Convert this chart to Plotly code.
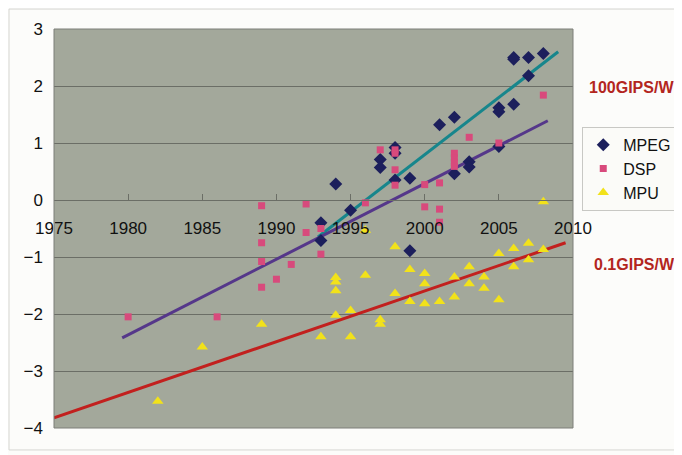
import plotly.graph_objects as go

# ---- data ----
mpeg_year = [1993, 1993, 1994, 1995, 1997, 1997, 1998, 1998, 1998, 1999, 1999,
             2001, 2002, 2002, 2003, 2003, 2005, 2005, 2005, 2006, 2006, 2006,
             2007, 2007, 2008]
mpeg_val = [-0.40, -0.71, 0.28, -0.18, 0.71, 0.57, 0.92, 0.82, 0.35, 0.38, -0.89,
            1.32, 1.45, 0.46, 0.67, 0.58, 1.62, 1.55, 0.94, 1.68, 2.50, 2.47,
            2.50, 2.18, 2.57]

dsp_year = [1980, 1986, 1989, 1989, 1989, 1989, 1990, 1991, 1992, 1992, 1993, 1993,
            1996, 1997, 1998, 1998, 1998, 1998, 2000, 2000, 2001, 2001, 2001,
            2002, 2002, 2002, 2002, 2003, 2005, 2008]
dsp_val = [-2.05, -2.05, -0.10, -0.75, -1.08, -1.53, -1.39, -1.13, -0.07, -0.57, -0.50, -0.95,
           -0.05, 0.88, 0.88, 0.82, 0.53, 0.26, 0.27, -0.12, 0.30, -0.16, -0.39,
           0.82, 0.74, 0.66, 0.59, 1.10, 1.00, 1.84]

mpu_year = [1982, 1985, 1989, 1993, 1994, 1994, 1994, 1994, 1995, 1995, 1996, 1996,
            1997, 1997, 1998, 1998, 1999, 1999, 2000, 2000, 2000, 2001, 2002, 2002,
            2003, 2003, 2004, 2004, 2005, 2005, 2006, 2006, 2007, 2007, 2008, 2008]
mpu_val = [-3.53, -2.58, -2.18, -2.40, -1.36, -1.44, -1.59, -2.02, -1.94, -2.40, -1.32, -0.53,
           -2.10, -2.18, -0.82, -1.64, -1.22, -1.78, -1.29, -1.47, -1.82, -1.78, -1.35, -1.70,
           -1.17, -1.47, -1.35, -1.55, -0.94, -1.75, -0.85, -1.17, -0.76, -1.05, -0.87, -0.03]

# trend lines (end points)
mpeg_trend_year = [1992.8, 2009.0]
mpeg_trend_val = [-0.65, 2.60]
dsp_trend_year = [1979.6, 2008.3]
dsp_trend_val = [-2.42, 1.39]
mpu_trend_year = [1975.0, 2009.5]
mpu_trend_val = [-3.82, -0.75]

x_ticks = [1975, 1980, 1985, 1990, 1995, 2000, 2005, 2010]
y_ticks = [-4, -3, -2, -1, 0, 1, 2, 3]
right_labels = ["100GIPS/W", "0.1GIPS/W"]

FONT = "Liberation Sans, Arial, sans-serif"

fig = go.Figure()

fig.add_trace(go.Scatter(x=mpeg_trend_year, y=mpeg_trend_val, mode="lines",
                         line=dict(color="#17868c", width=3), showlegend=False, hoverinfo="skip"))
fig.add_trace(go.Scatter(x=dsp_trend_year, y=dsp_trend_val, mode="lines",
                         line=dict(color="#55378a", width=3), showlegend=False, hoverinfo="skip"))
fig.add_trace(go.Scatter(x=mpu_trend_year, y=mpu_trend_val, mode="lines",
                         line=dict(color="#c2201e", width=3), showlegend=False, hoverinfo="skip"))

fig.add_trace(go.Scatter(x=mpeg_year, y=mpeg_val, mode="markers", name="MPEG",
                         marker=dict(symbol="diamond", size=10, color="#1c1f5c")))
fig.add_trace(go.Scatter(x=dsp_year, y=dsp_val, mode="markers", name="DSP",
                         marker=dict(symbol="square", size=7, color="#d84a7c")))
fig.add_trace(go.Scatter(x=mpu_year, y=mpu_val, mode="markers", name="MPU",
                         marker=dict(symbol="triangle-up", size=10, color="#f2e21a")))

# plot-area border
fig.add_shape(type="rect", xref="paper", yref="paper", x0=0, x1=1, y0=0, y1=1,
              line=dict(color="#7c7f78", width=1), layer="above")
# outer frame
fig.add_shape(type="rect", xref="paper", yref="paper", x0=-0.0867, x1=1.2, y0=-0.055, y1=1.05,
              line=dict(color="#d6d6d2", width=1), layer="below")

fig.add_annotation(x=1.112, y=0.853, xref="paper", yref="paper", text=right_labels[0],
                   xanchor="center", yanchor="middle",
                   showarrow=False, font=dict(family=FONT, size=16, color="#b3261e", weight="bold"))
fig.add_annotation(x=1.119, y=0.41, xref="paper", yref="paper", text=right_labels[1],
                   xanchor="center", yanchor="middle",
                   showarrow=False, font=dict(family=FONT, size=16, color="#b3261e", weight="bold"))

fig.update_layout(
    width=674, height=447,
    margin=dict(l=46, r=109, t=21, b=27, autoexpand=False),
    paper_bgcolor="#fcfcfa",
    plot_bgcolor="#a3a89b",
    font=dict(family=FONT, size=17, color="#111111"),
    xaxis=dict(range=[1975, 2010], tickvals=x_ticks, ticktext=[str(v) for v in x_ticks],
               anchor="free", position=4 / 7, showgrid=False, zeroline=False,
               showline=True, linecolor="#6b6e66", linewidth=1,
               ticks="inside", ticklen=6, tickcolor="#6b6e66",
               ticklabelstandoff=13, tickfont=dict(size=17), automargin=False),
    yaxis=dict(range=[-4, 3], tickvals=y_ticks, showgrid=True, gridcolor="#6b6e66",
               gridwidth=1, zeroline=False, ticks="", ticklabelstandoff=10,
               tickfont=dict(size=17), automargin=False),
    legend=dict(xref="container", yref="container", x=0.852, y=0.734,
                xanchor="left", yanchor="top",
                bgcolor="#fbfbf8", bordercolor="#c8c8c4", borderwidth=1,
                font=dict(size=16), itemsizing="trace", itemwidth=30,
                tracegroupgap=0),
    showlegend=True,
)

fig.write_html("out.html")
